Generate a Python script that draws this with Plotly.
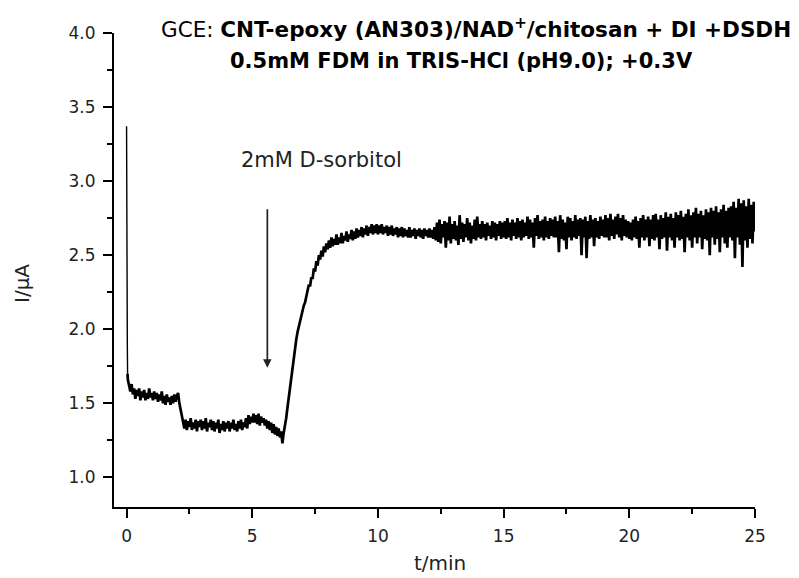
import plotly.graph_objects as go

# ---------------- data ----------------
# initial charging spike at injection start (t, current)
spike_t = [0.0, 0.0, 0.03, 0.04]
spike_i = [3.37, 1.92, 1.90, 1.70]

# sampled trace, one value every 0.05 min from t = 0.05 to 25.00 min
trace_t0 = 0.05
trace_dt = 0.05
current_uA = [
    # 0.05 - 1.00
    1.66, 1.62, 1.58, 1.63, 1.56, 1.60, 1.53, 1.59, 1.55, 1.60, 1.52, 1.58, 1.54, 1.59, 1.52, 1.57, 1.53, 1.60, 1.54, 1.57,
    # 1.05 - 2.00
    1.52, 1.58, 1.53, 1.57, 1.51, 1.56, 1.52, 1.58, 1.50, 1.55, 1.49, 1.56, 1.51, 1.54, 1.49, 1.55, 1.50, 1.56, 1.51, 1.55,
    # 2.05 - 3.00
    1.57, 1.50, 1.46, 1.41, 1.37, 1.33, 1.39, 1.32, 1.38, 1.34, 1.40, 1.32, 1.37, 1.33, 1.39, 1.31, 1.38, 1.34, 1.39, 1.32,
    # 3.05 - 4.00
    1.38, 1.33, 1.40, 1.31, 1.37, 1.34, 1.39, 1.32, 1.38, 1.31, 1.37, 1.33, 1.39, 1.30, 1.36, 1.32, 1.38, 1.31, 1.37, 1.33,
    # 4.05 - 5.00
    1.38, 1.31, 1.37, 1.33, 1.39, 1.32, 1.36, 1.31, 1.38, 1.33, 1.39, 1.32, 1.37, 1.34, 1.40, 1.33, 1.42, 1.36, 1.41, 1.37,
    # 5.05 - 6.00
    1.43, 1.37, 1.42, 1.36, 1.43, 1.35, 1.41, 1.37, 1.40, 1.35, 1.39, 1.33, 1.38, 1.32, 1.37, 1.30, 1.36, 1.29, 1.34, 1.28,
    # 6.05 - 7.00
    1.33, 1.27, 1.31, 1.23, 1.30, 1.34, 1.40, 1.47, 1.54, 1.62, 1.69, 1.76, 1.82, 1.88, 1.93, 1.98, 2.02, 2.05, 2.09, 2.12,
    # 7.05 - 8.00
    2.16, 2.18, 2.23, 2.25, 2.30, 2.29, 2.35, 2.34, 2.41, 2.39, 2.46, 2.43, 2.50, 2.47, 2.53, 2.49, 2.56, 2.52, 2.58, 2.54,
    # 8.05 - 9.00
    2.60, 2.55, 2.62, 2.56, 2.61, 2.57, 2.64, 2.57, 2.62, 2.58, 2.65, 2.58, 2.63, 2.60, 2.66, 2.59, 2.64, 2.61, 2.67, 2.60,
    # 9.05 - 10.00
    2.66, 2.61, 2.68, 2.62, 2.67, 2.63, 2.69, 2.62, 2.68, 2.64, 2.70, 2.63, 2.69, 2.65, 2.71, 2.64, 2.70, 2.65, 2.71, 2.64,
    # 10.05 - 11.00
    2.70, 2.65, 2.71, 2.64, 2.69, 2.65, 2.70, 2.63, 2.69, 2.64, 2.70, 2.63, 2.68, 2.64, 2.69, 2.62, 2.68, 2.63, 2.69, 2.62,
    # 11.05 - 12.00
    2.68, 2.63, 2.67, 2.62, 2.69, 2.62, 2.67, 2.63, 2.68, 2.61, 2.67, 2.63, 2.68, 2.62, 2.67, 2.61, 2.68, 2.63, 2.67, 2.62,
    # 12.05 - 13.00
    2.68, 2.62, 2.67, 2.61, 2.69, 2.60, 2.72, 2.59, 2.74, 2.58, 2.71, 2.62, 2.73, 2.55, 2.72, 2.60, 2.76, 2.58, 2.71, 2.61,
    # 13.05 - 14.00
    2.73, 2.60, 2.70, 2.57, 2.77, 2.61, 2.72, 2.59, 2.71, 2.62, 2.75, 2.60, 2.72, 2.58, 2.70, 2.61, 2.74, 2.60, 2.76, 2.62,
    # 14.05 - 15.00
    2.71, 2.61, 2.73, 2.62, 2.71, 2.60, 2.72, 2.63, 2.70, 2.61, 2.73, 2.62, 2.72, 2.60, 2.71, 2.63, 2.73, 2.61, 2.72, 2.62,
    # 15.05 - 16.00
    2.73, 2.61, 2.75, 2.62, 2.72, 2.60, 2.74, 2.63, 2.72, 2.61, 2.75, 2.62, 2.73, 2.60, 2.74, 2.62, 2.72, 2.63, 2.76, 2.61,
    # 16.05 - 17.00
    2.74, 2.62, 2.72, 2.55, 2.75, 2.63, 2.77, 2.61, 2.73, 2.62, 2.74, 2.60, 2.76, 2.62, 2.73, 2.61, 2.75, 2.63, 2.74, 2.62,
    # 17.05 - 18.00
    2.76, 2.62, 2.73, 2.52, 2.77, 2.61, 2.74, 2.60, 2.72, 2.54, 2.76, 2.62, 2.75, 2.60, 2.73, 2.62, 2.77, 2.61, 2.74, 2.63,
    # 18.05 - 19.00
    2.75, 2.50, 2.74, 2.62, 2.76, 2.48, 2.73, 2.61, 2.77, 2.62, 2.74, 2.56, 2.75, 2.62, 2.73, 2.61, 2.76, 2.63, 2.74, 2.62,
    # 19.05 - 20.00
    2.77, 2.62, 2.75, 2.60, 2.78, 2.63, 2.74, 2.61, 2.76, 2.64, 2.78, 2.62, 2.75, 2.60, 2.77, 2.63, 2.74, 2.62, 2.73, 2.61,
    # 20.05 - 21.00
    2.72, 2.60, 2.74, 2.62, 2.76, 2.61, 2.73, 2.55, 2.75, 2.62, 2.77, 2.60, 2.74, 2.62, 2.76, 2.56, 2.74, 2.61, 2.77, 2.60,
    # 21.05 - 22.00
    2.78, 2.62, 2.74, 2.54, 2.77, 2.61, 2.75, 2.62, 2.79, 2.53, 2.76, 2.62, 2.78, 2.60, 2.75, 2.55, 2.79, 2.62, 2.77, 2.60,
    # 22.05 - 23.00
    2.80, 2.61, 2.76, 2.52, 2.78, 2.62, 2.81, 2.60, 2.77, 2.55, 2.79, 2.62, 2.82, 2.58, 2.78, 2.62, 2.80, 2.54, 2.77, 2.61,
    # 23.05 - 24.00
    2.81, 2.60, 2.79, 2.50, 2.82, 2.62, 2.80, 2.57, 2.83, 2.61, 2.79, 2.52, 2.81, 2.62, 2.84, 2.58, 2.80, 2.55, 2.82, 2.62,
    # 24.05 - 25.00
    2.83, 2.60, 2.86, 2.48, 2.82, 2.62, 2.88, 2.57, 2.85, 2.42, 2.87, 2.60, 2.83, 2.55, 2.88, 2.61, 2.84, 2.58, 2.86, 2.66,
]
trace_t = [round(trace_t0 + k * trace_dt, 3) for k in range(len(current_uA))]

# sorbitol addition marker
arrow_t = 5.6
arrow_from = 2.82
arrow_to = 1.74

x_ticks = [0, 5, 10, 15, 20, 25]
y_ticks = [1.0, 1.5, 2.0, 2.5, 3.0, 3.5, 4.0]

title_line1 = "GCE: <b>CNT-epoxy (AN303)/NAD<sup>+</sup>/chitosan + DI +DSDH</b>"
title_line2 = "<b>0.5mM FDM in TRIS-HCl (pH9.0); +0.3V</b>"
event_label = "2mM D-sorbitol"
x_title = "t/min"
y_title = "I/μA"

# ---------------- figure ----------------
FONT = "DejaVu Sans"
OFF = 8  # page body margin
fig = go.Figure()
fig.add_trace(go.Scatter(
    x=spike_t,
    y=spike_i,
    mode="lines",
    line=dict(color="black", width=1.4),
    showlegend=False,
    hoverinfo="skip",
))
fig.add_trace(go.Scatter(
    x=[spike_t[-1]] + trace_t,
    y=[spike_i[-1]] + current_uA,
    mode="lines",
    line=dict(color="black", width=2.7),
    showlegend=False,
    hoverinfo="skip",
))

fig.add_annotation(
    x=arrow_t, y=arrow_to, ax=arrow_t, ay=arrow_from,
    xref="x", yref="y", axref="x", ayref="y",
    showarrow=True, arrowhead=2, arrowsize=1.0, arrowwidth=1.7,
    arrowcolor="#222222", text="",
)

W, H = 799 - OFF, 578 - OFF
L, T = 114 - OFF, 33 - OFF
R = W - (755 - OFF)
B = H - (507 - OFF)
pw, ph = W - L - R, H - T - B

def px(xp):
    return (xp - OFF - L) / pw

def py(yp):
    return (H - B - (yp - OFF)) / ph

fig.add_annotation(text=title_line1, x=px(476), y=py(28), xref="paper", yref="paper",
                   showarrow=False, xanchor="center", yanchor="middle",
                   font=dict(family=FONT, size=21.5, color="black"))
fig.add_annotation(text=title_line2, x=px(461), y=py(61), xref="paper", yref="paper",
                   showarrow=False, xanchor="center", yanchor="middle",
                   font=dict(family=FONT, size=21, color="black"))
fig.add_annotation(text=event_label, x=px(321), y=py(160), xref="paper", yref="paper",
                   showarrow=False, xanchor="center", yanchor="middle",
                   font=dict(family=FONT, size=21, color="#222222"))
fig.add_annotation(text=y_title, x=px(22), y=py(284), xref="paper", yref="paper",
                   showarrow=False, xanchor="center", yanchor="middle", textangle=-90,
                   font=dict(family=FONT, size=20, color="#222222"))
fig.add_annotation(text=x_title, x=px(440), y=py(563), xref="paper", yref="paper",
                   showarrow=False, xanchor="center", yanchor="middle",
                   font=dict(family=FONT, size=20, color="#222222"))

axis_common = dict(
    showline=True, linecolor="black", linewidth=2, mirror=False,
    ticks="outside", ticklen=9, tickwidth=2, tickcolor="black",
    showgrid=False, zeroline=False,
    tickfont=dict(family=FONT, size=17, color="#222222"),
)
fig.update_xaxes(range=[-0.5, 25], tickmode="array", tickvals=x_ticks,
                 ticktext=[str(v) for v in x_ticks],
                 minor=dict(ticks="outside", ticklen=5, tickwidth=2, tickcolor="black", dtick=2.5, tick0=0),
                 ticklabelstandoff=4, **axis_common)
fig.update_yaxes(range=[0.8, 4.0], tickmode="array", tickvals=y_ticks,
                 ticktext=[f"{v:.1f}" for v in y_ticks],
                 minor=dict(ticks="outside", ticklen=5, tickwidth=2, tickcolor="black", dtick=0.25, tick0=0),
                 ticklabelstandoff=4, **axis_common)

fig.update_layout(
    width=W, height=H,
    margin=dict(l=L, r=R, t=T, b=B),
    paper_bgcolor="white", plot_bgcolor="white",
    font=dict(family=FONT),
)

fig.write_html("out.html")
